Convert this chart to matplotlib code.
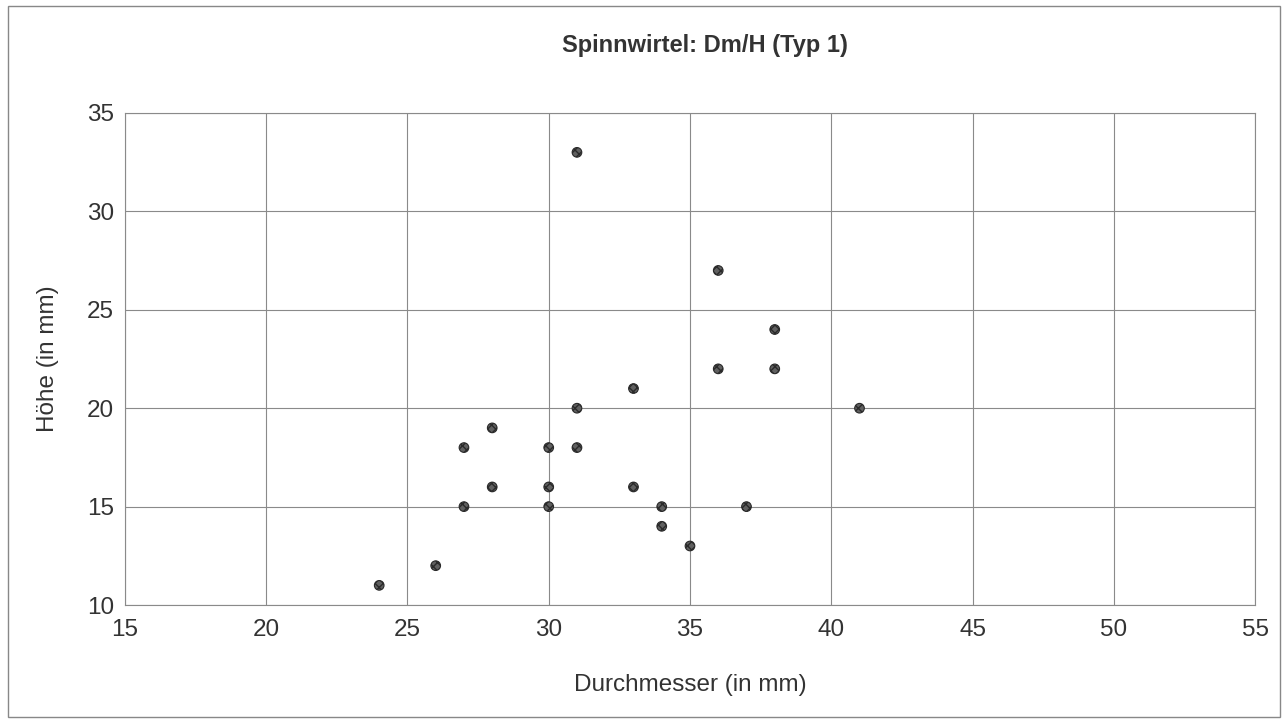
import matplotlib.pyplot as plt
from matplotlib.patches import Rectangle

# Durchmesser / Hoehe (mm), Typ 1
durchmesser = [24, 26, 27, 27, 28, 28, 30, 30, 30, 31, 31, 31,
               33, 33, 34, 34, 35, 36, 36, 37, 38, 38, 41]
hoehe = [11, 12, 15, 18, 16, 19, 15, 16, 18, 18, 20, 33,
         16, 21, 14, 15, 13, 22, 27, 15, 22, 24, 20]

x_ticks = [15, 20, 25, 30, 35, 40, 45, 50, 55]
y_ticks = [10, 15, 20, 25, 30, 35]

plt.rcParams['font.family'] = ['Liberation Sans', 'DejaVu Sans']

fig = plt.figure(figsize=(12.88, 7.22), dpi=100)
ax = fig.add_axes([0.097, 0.162, 0.8774, 0.6815])

ax.scatter(durchmesser, hoehe, s=48, facecolor='#606060', edgecolor='#2a2a2a',
           linewidths=0.8, hatch='xxxx', zorder=3)

ax.set_xlim(15, 55)
ax.set_ylim(10, 35)
ax.set_xticks(x_ticks)
ax.set_yticks(y_ticks)
ax.tick_params(axis='both', length=0, labelsize=17.5, colors='#333333')
ax.tick_params(axis='x', pad=10)
ax.tick_params(axis='y', pad=8)
ax.grid(True, color='#8a8a8a', linewidth=0.8)
for s in ax.spines.values():
  s.set_color('#8a8a8a')
  s.set_linewidth(0.8)

ax.set_xlabel('Durchmesser (in mm)', fontsize=17.5, color='#333333', labelpad=24)
ax.set_ylabel('Höhe (in mm)', fontsize=17.5, color='#333333', labelpad=20)
fig.text(0.547, 0.937, 'Spinnwirtel: Dm/H (Typ 1)', ha='center', va='center',
         fontsize=17, fontweight='bold', color='#333333')

# outer frame
fig.patches.append(Rectangle((0.006, 0.007), 0.988, 0.985, transform=fig.transFigure,
                             fill=False, edgecolor='#888888', linewidth=1.0))

fig.savefig('out.png', dpi=100)
